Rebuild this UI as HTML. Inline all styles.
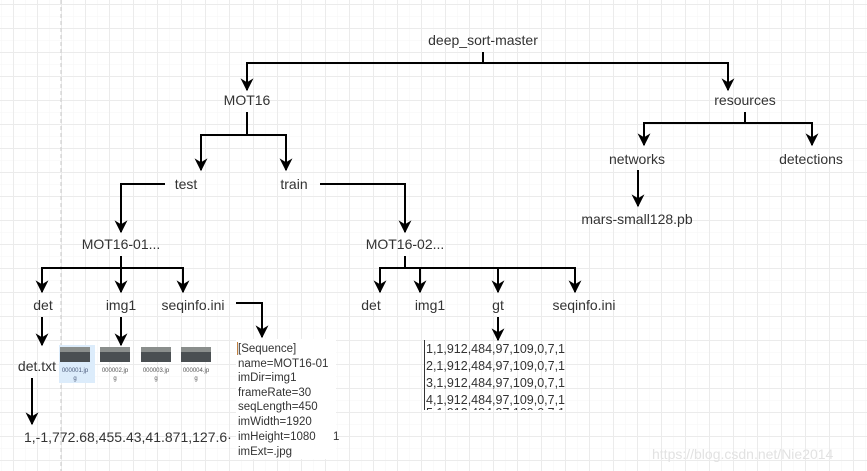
<!DOCTYPE html>
<html><head><meta charset="utf-8"><style>
html,body{margin:0;padding:0;background:#fff}
svg{display:block}
text{font-family:"Liberation Sans",Arial,sans-serif;fill:#333}
</style></head><body>
<svg width="867" height="471" viewBox="0 0 867 471" xmlns="http://www.w3.org/2000/svg">
<defs>
<pattern id="g1" x="1" y="4" width="12" height="12" patternUnits="userSpaceOnUse"><path d="M0 0H12M0 0V12" stroke="#f6f6f6" stroke-width="1" fill="none"/></pattern>
<pattern id="g2" x="13" y="4" width="24" height="24" patternUnits="userSpaceOnUse"><path d="M0 0.5H24M0.5 0V24" stroke="#ebebeb" stroke-width="1" fill="none"/></pattern>
<marker id="a" viewBox="0 0 10 10" refX="9" refY="5" markerWidth="6.5" markerHeight="6.5" orient="auto"><path d="M0 0L10 5L0 10L3 5z" fill="#000"/></marker>
<clipPath id="c5"><rect x="420" y="403" width="160" height="7"/></clipPath>
</defs>
<rect width="867" height="471" fill="url(#g1)"/>
<rect width="867" height="471" fill="url(#g2)"/>
<line x1="61" y1="0" x2="61" y2="471" stroke="#c8c8c8" stroke-dasharray="4,3"/>
<g stroke="#000" stroke-width="2" fill="none" marker-end="url(#a)">
<path d="M483 52V63H247V90"/><path d="M483 63H728V90"/>
<path d="M247 112V135H201V170"/><path d="M247 135H286V170"/>
<path d="M745 112V123H644V145"/><path d="M745 123H812V145"/>
<path d="M638 170V206"/>
<path d="M165 184H121V232"/><path d="M320 184H405V232"/>
<path d="M121 256V268H42V292"/><path d="M121 268V292"/><path d="M121 268H183V292"/>
<path d="M405 256V268H380V292"/><path d="M405 268H420V292"/><path d="M405 268H498V292"/><path d="M405 268H575V292"/>
<path d="M42 317V345"/><path d="M121 317V345"/><path d="M236 303H262V337"/>
<path d="M32 378V424"/><path d="M498 317V340"/>
</g>
<g font-size="14" text-anchor="middle">
<text x="483" y="45">deep_sort-master</text>
<text x="247" y="105">MOT16</text>
<text x="745" y="105">resources</text>
<text x="637" y="164">networks</text>
<text x="811" y="164">detections</text>
<text x="637" y="224">mars-small128.pb</text>
<text x="186" y="189">test</text>
<text x="294" y="189">train</text>
<text x="121" y="249">MOT16-01...</text>
<text x="405" y="249">MOT16-02...</text>
<text x="43" y="310">det</text>
<text x="121" y="310">img1</text>
<text x="193" y="310">seqinfo.ini</text>
<text x="371" y="310">det</text>
<text x="430" y="310">img1</text>
<text x="498" y="310">gt</text>
<text x="584" y="310">seqinfo.ini</text>
<text x="37" y="371">det.txt</text>
</g>
<text x="24" y="442" font-size="14">1,-1,772.68,455.43,41.871,127.6·</text>
<rect x="236" y="339" width="100" height="120" fill="#fff"/>
<line x1="237.5" y1="342" x2="237.5" y2="355" stroke="#c08040"/>
<g font-size="11.5">
<text x="238" y="352">[Sequence]</text>
<text x="238" y="367">name=MOT16-01</text>
<text x="238" y="381">imDir=img1</text>
<text x="238" y="396">frameRate=30</text>
<text x="238" y="410">seqLength=450</text>
<text x="238" y="425">imWidth=1920</text>
<text x="238" y="440">imHeight=1080</text>
<text x="238" y="455">imExt=.jpg</text>
<text x="333" y="440">1</text>
</g>
<line x1="424.5" y1="340" x2="424.5" y2="410" stroke="#333"/>
<g font-size="12.5">
<text x="426" y="353">1,1,912,484,97,109,0,7,1</text>
<text x="426" y="370">2,1,912,484,97,109,0,7,1</text>
<text x="426" y="387">3,1,912,484,97,109,0,7,1</text>
<text x="426" y="404">4,1,912,484,97,109,0,7,1</text>
<text x="426" y="417" clip-path="url(#c5)">5,1,912,484,97,109,0,7,1</text>
</g>
<rect x="59" y="345" width="36" height="38" fill="#dcecfb"/>
<g>
<rect x="60" y="347" width="30" height="15" fill="#4a4f52"/><rect x="60" y="347" width="30" height="5" fill="#8a8e8c"/>
<rect x="100" y="347" width="30" height="15" fill="#4a4f52"/><rect x="100" y="347" width="30" height="5" fill="#8a8e8c"/>
<rect x="141" y="347" width="30" height="15" fill="#4a4f52"/><rect x="141" y="347" width="30" height="5" fill="#8a8e8c"/>
<rect x="181" y="347" width="30" height="15" fill="#4a4f52"/><rect x="181" y="347" width="30" height="5" fill="#8a8e8c"/>
</g>
<g font-size="6" text-anchor="middle">
<text x="75" y="372" style="fill:#4a5a7a">000001.jp</text><text x="75" y="380" style="fill:#4a5a7a">g</text>
<text x="115" y="372" style="fill:#555">000002.jp</text><text x="115" y="380" style="fill:#555">g</text>
<text x="156" y="372" style="fill:#555">000003.jp</text><text x="156" y="380" style="fill:#555">g</text>
<text x="196" y="372" style="fill:#555">000004.jp</text><text x="196" y="380" style="fill:#555">g</text>
</g>
<text x="652" y="459" font-size="14" style="fill:#e2e2e2">https://blog.csdn.net/Nie2014</text>
</svg>
</body></html>
